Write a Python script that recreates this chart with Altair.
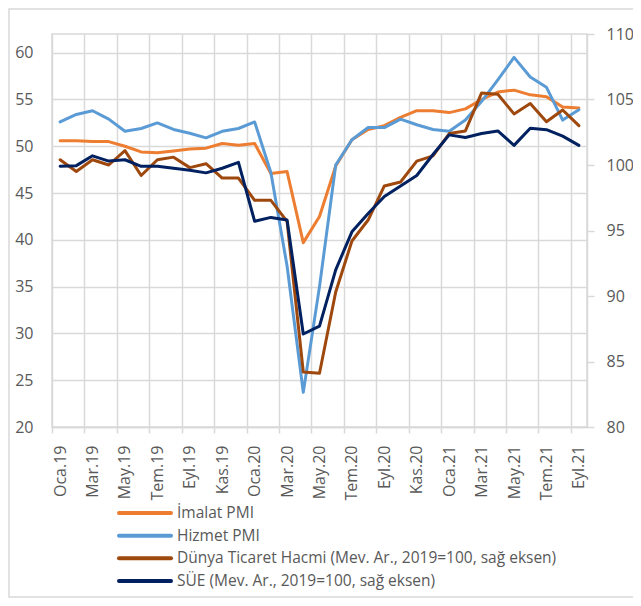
import json
import altair as alt
import pandas as pd

month_labels = [
    "Oca.19", "Şub.19", "Mar.19", "Nis.19", "May.19", "Haz.19", "Tem.19", "Ağu.19", "Eyl.19", "Eki.19", "Kas.19", "Ara.19",
    "Oca.20", "Şub.20", "Mar.20", "Nis.20", "May.20", "Haz.20", "Tem.20", "Ağu.20", "Eyl.20", "Eki.20", "Kas.20", "Ara.20",
    "Oca.21", "Şub.21", "Mar.21", "Nis.21", "May.21", "Haz.21", "Tem.21", "Ağu.21", "Eyl.21",
]

imalat_pmi = [50.6, 50.6, 50.5, 50.5, 50.0, 49.4, 49.3, 49.5, 49.7, 49.8, 50.3, 50.1,
              50.3, 47.1, 47.3, 39.7, 42.5, 47.9, 50.7, 51.8, 52.2, 53.1, 53.8, 53.8,
              53.6, 54.0, 55.0, 55.8, 56.0, 55.5, 55.3, 54.2, 54.1]
hizmet_pmi = [52.6, 53.4, 53.8, 52.9, 51.6, 51.9, 52.5, 51.8, 51.4, 50.9, 51.6, 51.9,
              52.6, 47.2, 37.2, 23.7, 35.0, 48.0, 50.7, 52.0, 52.0, 52.9, 52.3, 51.8,
              51.6, 52.8, 54.8, 57.1, 59.5, 57.4, 56.3, 52.8, 53.9]
dunya_ticaret = [100.4, 99.5, 100.4, 100.0, 101.1, 99.2, 100.4, 100.6, 99.8, 100.1, 99.0, 99.0,
                 97.3, 97.3, 95.7, 84.2, 84.1, 90.3, 94.2, 95.8, 98.4, 98.7, 100.3, 100.7,
                 102.4, 102.6, 105.5, 105.4, 103.9, 104.7, 103.3, 104.2, 103.0]
sue = [99.9, 99.95, 100.7, 100.3, 100.4, 99.9, 99.9, 99.75, 99.6, 99.4, 99.75, 100.2,
       95.7, 96.0, 95.8, 87.1, 87.7, 92.0, 94.9, 96.3, 97.6, 98.4, 99.2, 100.8,
       102.3, 102.1, 102.4, 102.6, 101.5, 102.8, 102.7, 102.2, 101.5]

series_names = [
    "İmalat PMI",
    "Hizmet PMI",
    "Dünya Ticaret Hacmi (Mev. Ar., 2019=100, sağ eksen)",
    "SÜE (Mev. Ar., 2019=100, sağ eksen)",
]
series_colors = ["#ED7D31", "#5B9BD5", "#9E480E", "#002060"]
left_ticks = [20, 25, 30, 35, 40, 45, 50, 55, 60]
right_ticks = [80, 85, 90, 95, 100, 105, 110]

rows = []
for name, vals in zip(series_names, [imalat_pmi, hizmet_pmi, dunya_ticaret, sue]):
    for i, v in enumerate(vals):
        rows.append({"idx": i, "label": month_labels[i], "series": name, "value": v})
df = pd.DataFrame(rows)
legend_df = pd.DataFrame({"series": series_names, "order": list(range(len(series_names)))})

FONT = "Open Sans"
GRAY = "#d9d9d9"
TXT = "#595959"

grid_vals = [i - 0.5 for i in range(0, len(month_labels), 2)]
label_vals = list(range(0, len(month_labels), 2))
x_vals = sorted(grid_vals + label_vals)
lbl_js = json.dumps(month_labels, ensure_ascii=False)

x_enc = alt.X(
    "idx:Q",
    scale=alt.Scale(domain=[-0.5, len(month_labels) - 0.5], nice=False, zero=False),
    axis=alt.Axis(
        title=None,
        values=x_vals,
        labelExpr=f"datum.value % 1 === 0 ? {lbl_js}[datum.value] : ''",
        labelAngle=-90,
        labelOverlap=False,
        labelFlush=False,
        labelFont=FONT,
        labelFontSize=16,
        labelColor=TXT,
        labelPadding=12,
        domainColor=GRAY,
        domainWidth=1.5,
        grid=True,
        gridColor=GRAY,
        gridWidth=1.5,
        gridOpacity={"condition": {"test": "datum.value % 1 !== 0", "value": 1}, "value": 0},
        tickOpacity={"condition": {"test": "datum.value % 1 !== 0", "value": 1}, "value": 0},
        tickColor=GRAY,
        tickWidth=1.5,
        tickSize=6,
    ),
)

color_enc = alt.Color(
    "series:N",
    scale=alt.Scale(domain=series_names, range=series_colors),
    legend=None,
)

y_left = alt.Y(
    "value:Q",
    scale=alt.Scale(domain=[20, 62], nice=False, zero=False),
    axis=alt.Axis(
        title=None,
        orient="left",
        values=left_ticks,
        grid=True,
        gridColor=GRAY,
        gridWidth=1.5,
        domain=False,
        ticks=False,
        labelFont=FONT,
        labelFontSize=16,
        labelColor=TXT,
        labelPadding=19,
        labelFlush=False,
    ),
)
y_right = alt.Y(
    "value:Q",
    scale=alt.Scale(domain=[80, 110], nice=False, zero=False),
    axis=alt.Axis(
        title=None,
        orient="right",
        values=right_ticks,
        grid=False,
        domainColor=GRAY,
        domainWidth=1.5,
        tickColor=GRAY,
        tickWidth=1.5,
        tickSize=7,
        labelFont=FONT,
        labelFontSize=16,
        labelColor=TXT,
        labelPadding=12,
        labelFlush=False,
    ),
)


def line_layer(name, y):
    return (
        alt.Chart(df)
        .transform_filter(alt.datum.series == name)
        .mark_line(strokeWidth=3, strokeCap="round", strokeJoin="round")
        .encode(x=x_enc, y=y, color=color_enc, detail="series:N")
    )


left = alt.layer(line_layer(series_names[0], y_left), line_layer(series_names[1], y_left))
right = alt.layer(line_layer(series_names[2], y_right), line_layer(series_names[3], y_right))

# manual legend (row positions from a linear scale over the series order)
leg_y = alt.Y(
    "order:Q",
    scale=alt.Scale(domain=[0, len(series_names) - 1], range=[479, 547], nice=False, zero=False),
    axis=None,
)
legend_rules = (
    alt.Chart(legend_df)
    .mark_rule(strokeWidth=4, strokeCap="round")
    .encode(x=alt.value(67), x2=alt.value(119), y=leg_y, color=color_enc)
)
legend_text = (
    alt.Chart(legend_df)
    .mark_text(align="left", baseline="middle", font=FONT, fontSize=15.5, color=TXT)
    .encode(x=alt.value(125), y=leg_y, text="series:N")
)
legend = alt.layer(legend_rules, legend_text)

frame = (
    alt.Chart(pd.DataFrame({"a": [0]}))
    .mark_rect(fillOpacity=0, stroke=GRAY, strokeWidth=1.5)
    .encode(x=alt.value(-43), x2=alt.value(620), y=alt.value(-25), y2=alt.value(563))
)

chart = (
    alt.layer(frame, left, right, legend)
    .resolve_scale(y="independent")
    .properties(
        width=535,
        height=393,
        padding={"left": 44, "top": 26, "right": 46, "bottom": 171},
        autosize=alt.AutoSizeParams(type="none"),
    )
    .configure_view(stroke=GRAY, strokeWidth=1.5)
)

chart.save("out.html", embed_options={"renderer": "svg", "actions": False})
